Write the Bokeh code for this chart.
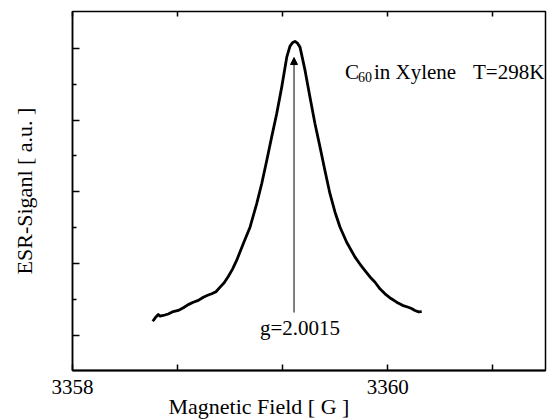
from bokeh.plotting import figure
from bokeh.models import Range1d, FixedTicker, LinearAxis, Arrow, NormalHead, Title
from bokeh.core.properties import value
from bokeh.embed import file_html
from bokeh.resources import INLINE

# ESR spectrum of C60 in xylene
field = [3358.509, 3358.526, 3358.544, 3358.556, 3358.576, 3358.607, 3358.639,
         3358.671, 3358.703, 3358.734, 3358.766, 3358.798, 3358.830, 3358.857,
         3358.883, 3358.910, 3358.936, 3358.962, 3358.988, 3359.015, 3359.041,
         3359.083, 3359.126, 3359.168, 3359.200, 3359.232, 3359.263, 3359.295,
         3359.327, 3359.359, 3359.379, 3359.395, 3359.411, 3359.427, 3359.443,
         3359.475, 3359.506, 3359.538, 3359.570, 3359.601, 3359.633, 3359.665,
         3359.697, 3359.739, 3359.792, 3359.823, 3359.855, 3359.887, 3359.919,
         3359.950, 3359.982, 3360.020, 3360.056, 3360.093, 3360.130, 3360.150,
         3360.172, 3360.195, 3360.215]
signal = [0.199, 0.250, 0.292, 0.270, 0.279, 0.300, 0.334,
          0.350, 0.386, 0.430, 0.464, 0.490, 0.533, 0.560,
          0.581, 0.610, 0.673, 0.735, 0.822, 0.925, 1.045,
          1.277, 1.508, 1.834, 2.113, 2.437, 2.762, 3.088,
          3.458, 3.876, 4.025, 4.075, 4.095, 4.070, 4.015,
          3.691, 3.319, 2.948, 2.623, 2.298, 1.974, 1.717,
          1.508, 1.299, 1.091, 0.995, 0.905, 0.815, 0.742,
          0.650, 0.581, 0.515, 0.464, 0.420, 0.394, 0.375,
          0.348, 0.330, 0.334]

x_ticks = [3358, 3360]
x_minor_ticks = [3358 + 2 / 3, 3358 + 4 / 3, 3360 + 2 / 3]
y_ticks = [0, 1, 2, 3, 4]
y_minor_ticks = [0.5, 1.5, 2.5, 3.5]

x_title = "Magnetic Field [ G ]"
y_title = "ESR-Siganl [ a.u. ]"
g_field = 3359.405          # resonance position marked by the arrow
g_label = "g=2.0015"
title_main = "C"
title_sub = "60"
title_rest = "in Xylene"
title_temp = "T=298K"

FONT = "Liberation Serif"

p = figure(width=547, height=419, output_backend="svg", toolbar_location=None,
           x_range=Range1d(3358, 3361), y_range=Range1d(-0.487, 4.511),
           min_border_left=72, min_border_right=2, min_border_top=11,
           min_border_bottom=49)
p.xgrid.visible = False
p.ygrid.visible = False
p.outline_line_color = "black"
p.outline_line_width = 1.5
p.background_fill_color = "white"
p.border_fill_color = "white"

# bottom axis
xa = p.xaxis[0]
xa.ticker = FixedTicker(ticks=x_ticks, minor_ticks=x_minor_ticks)
xa.major_label_text_font = FONT
xa.major_label_text_font_size = "21px"
xa.major_label_text_color = "black"
xa.major_label_standoff = 9
xa.major_tick_in = 6
xa.major_tick_out = 0
xa.minor_tick_in = 6
xa.minor_tick_out = 0
xa.axis_line_width = 2
xa.major_tick_line_width = 1.5
xa.minor_tick_line_width = 1.5
xa.axis_line_color = "black"
xa.major_tick_line_color = "black"
xa.minor_tick_line_color = "black"

# x-axis title: left of centre in the original, so it is a left-aligned title below
p.add_layout(Title(text=x_title, align="left", offset=96, standoff=-10,
                   text_font=FONT, text_font_size="22px", text_font_style="normal",
                   text_color="black"), "below")

# left axis (ticks only, no tick labels)
ya = p.yaxis[0]
ya.ticker = FixedTicker(ticks=y_ticks, minor_ticks=y_minor_ticks)
ya.axis_label = y_title
ya.axis_label_text_font = FONT
ya.axis_label_text_font_style = "normal"
ya.axis_label_text_font_size = "22px"
ya.axis_label_text_color = "black"
ya.axis_label_standoff = 36
ya.major_label_text_font_size = "1px"
ya.major_label_text_color = None
ya.major_label_standoff = 0
ya.major_tick_in = 7
ya.major_tick_out = 0
ya.minor_tick_in = 4
ya.minor_tick_out = 0
ya.axis_line_width = 1.5
ya.major_tick_line_width = 1.5
ya.minor_tick_line_width = 1.5
ya.axis_line_color = "black"
ya.major_tick_line_color = "black"
ya.minor_tick_line_color = "black"

# top axis: inward ticks only
ta = LinearAxis(ticker=FixedTicker(ticks=x_ticks, minor_ticks=x_minor_ticks))
ta.major_label_text_font_size = "1px"
ta.major_label_text_color = None
ta.major_label_standoff = 0
ta.major_tick_in = 5
ta.major_tick_out = 0
ta.minor_tick_in = 5
ta.minor_tick_out = 0
ta.axis_line_color = None
ta.major_tick_line_color = "black"
ta.minor_tick_line_color = "black"
ta.major_tick_line_width = 1.5
ta.minor_tick_line_width = 1.5
p.add_layout(ta, "above")

# spectrum
p.line(field, signal, line_color="black", line_width=2.8, line_join="round")

# arrow marking g value
p.add_layout(Arrow(end=NormalHead(size=7, fill_color="black", line_color="black", line_width=1),
                   x_start=g_field, y_start=0.32, x_end=g_field, y_end=3.87,
                   line_color="black", line_width=1))

p.text(x=[3359.443], y=[0.111], text=[g_label], text_font=value(FONT),
       text_font_size=value("21px"), text_align="center", text_baseline="middle",
       text_color="black")

p.text(x=[3359.728], y=[3.666], text=[title_main], text_font=value(FONT),
       text_font_size=value("21px"), text_align="left", text_baseline="alphabetic",
       text_color="black")
p.text(x=[3359.810], y=[3.600], text=[title_sub], text_font=value(FONT),
       text_font_size=value("14px"), text_align="left", text_baseline="alphabetic",
       text_color="black")
p.text(x=[3359.912], y=[3.666], text=[title_rest], text_font=value(FONT),
       text_font_size=value("21px"), text_align="left", text_baseline="alphabetic",
       text_color="black")
p.text(x=[3360.540], y=[3.666], text=[title_temp], text_font=value(FONT),
       text_font_size=value("21px"), text_align="left", text_baseline="alphabetic",
       text_color="black")

open("out.html", "w").write(file_html(p, INLINE))
